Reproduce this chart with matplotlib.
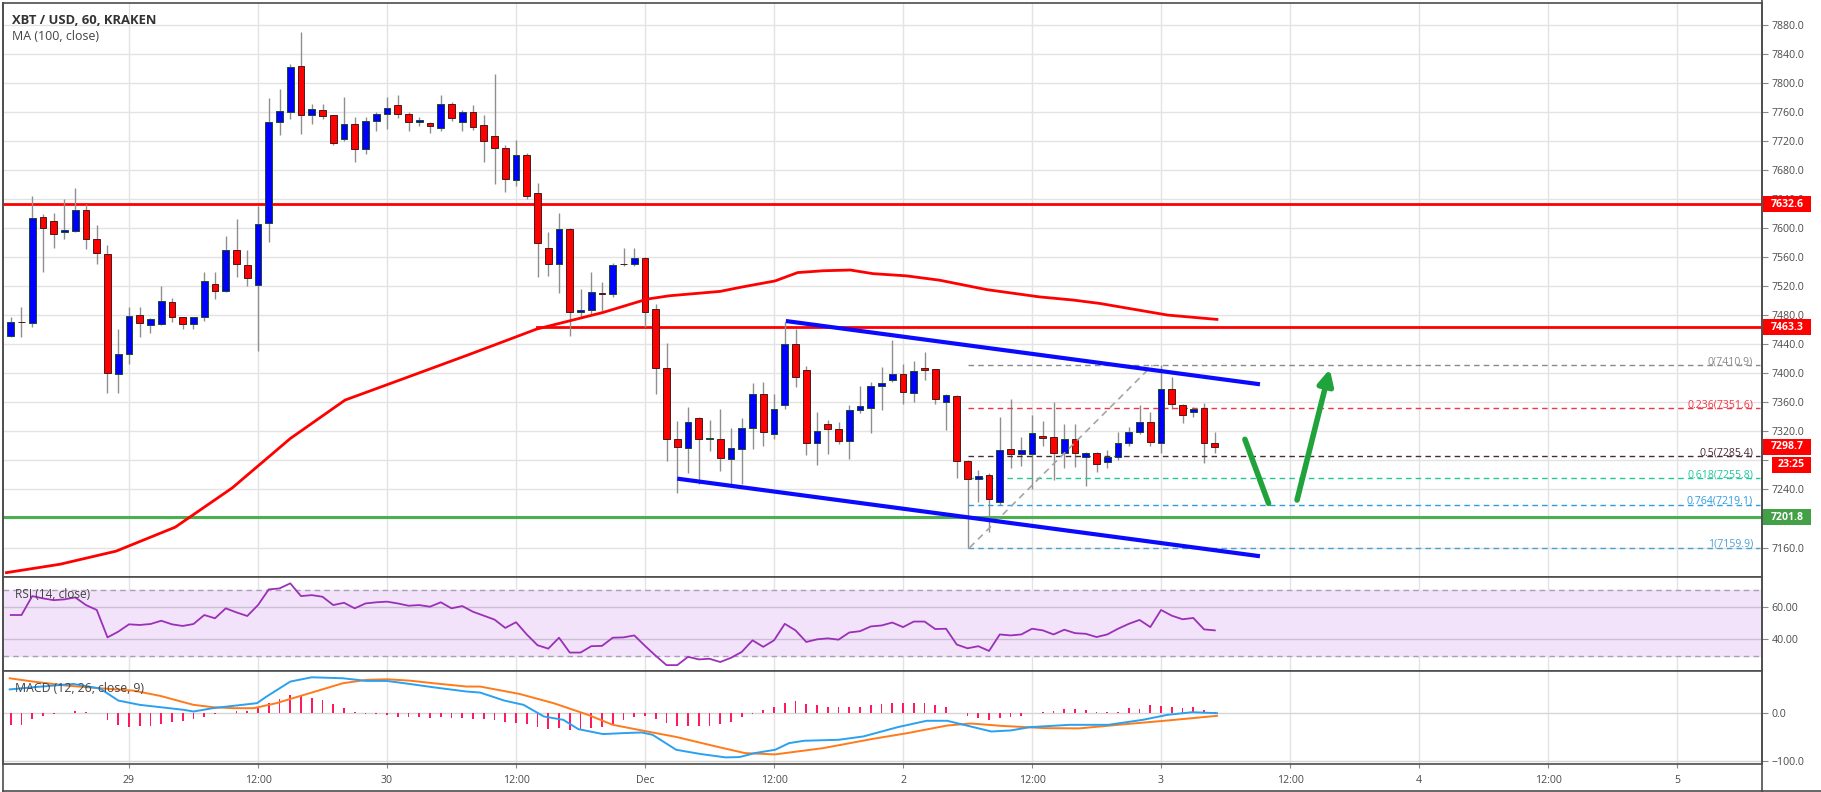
import numpy as np
import matplotlib.pyplot as plt
from matplotlib.patches import Rectangle, FancyArrowPatch

plt.rcParams['font.family'] = ['Open Sans', 'DejaVu Sans']

W, H = 1821, 792

# hourly candles, x = hours from 29 Nov 00:00, first candle at -11
first_hour = -11
opens = [7450.5, 7470.5, 7468.4, 7615.6, 7609.6, 7594.4, 7595.4, 7625.3, 7584.8, 7564,
         7398.5, 7426, 7480, 7466.6, 7467.5, 7498, 7477.6, 7467.5, 7476.7, 7522.7,
         7512.6, 7570, 7549.4, 7521, 7606.3, 7745.7, 7759.5, 7823.4, 7754.9, 7761.8,
         7755, 7722.7, 7743.4, 7709, 7746.6, 7757, 7769.6, 7757, 7745.7, 7744.8,
         7737.4, 7771, 7745.7, 7760, 7742, 7726, 7710.3, 7665.6, 7701, 7648,
         7572.4, 7550.3, 7598.6, 7484.5, 7486.8, 7510, 7509, 7550.3, 7550.3, 7558.6,
         7488, 7406.8, 7308.8, 7297, 7337.8, 7310, 7310, 7282, 7295, 7324.9,
         7370.9, 7316, 7355.7, 7440, 7405, 7304.5, 7330.6, 7323.7, 7306.8, 7349.8,
         7352.5, 7382.2, 7390, 7398.2, 7373, 7407.4, 7405.2, 7360.7, 7369, 7279.5,
         7254.3, 7259.8, 7223, 7295, 7288.7, 7288.7, 7313.5, 7311.6, 7290.5, 7308.9,
         7284.1, 7289.6, 7278, 7284.1, 7303.4, 7319.4, 7332.3, 7303.4, 7377.7, 7355.7,
         7346, 7351.6, 7304.3]
highs = [7478, 7491, 7643.7, 7619, 7620.6, 7640, 7655, 7633, 7604.6, 7577,
         7460.6, 7490.5, 7491.5, 7476, 7520, 7504, 7478, 7478, 7538.8, 7538.8,
         7589.4, 7612.4, 7570, 7630.8, 7779.2, 7791.7, 7826, 7869, 7770, 7770,
         7756, 7780, 7752.6, 7752.6, 7759.5, 7780, 7783.4, 7759, 7752, 7746,
         7782.5, 7773, 7762, 7769.6, 7755, 7812.4, 7713.5, 7720.4, 7703, 7662,
         7594, 7620, 7600, 7515.8, 7539.7, 7525, 7552, 7573, 7572, 7560,
         7495, 7442, 7334, 7353.4, 7340, 7335, 7350, 7325, 7338.7, 7387,
         7387.7, 7371.7, 7471, 7461, 7410, 7346.6, 7336, 7333, 7355.7, 7383,
         7387.7, 7408, 7445.7, 7413, 7417.4, 7429, 7406, 7371, 7370, 7281,
         7266.7, 7262, 7339.2, 7364, 7312.6, 7342.4, 7334.6, 7360.7, 7330, 7330,
         7292, 7291, 7294.2, 7319.4, 7325.4, 7356.2, 7347, 7410.9, 7395, 7358,
         7353, 7358.4, 7318.5]
lows = [7450, 7450, 7463, 7539, 7572, 7584.8, 7595, 7571, 7550, 7373,
        7373, 7412, 7450, 7455, 7467, 7469.8, 7460.6, 7460.6, 7472, 7502,
        7512, 7532, 7520, 7430.7, 7581, 7728, 7750.3, 7729.6, 7742.5, 7750,
        7713.5, 7720, 7690.5, 7702, 7734, 7736, 7751.7, 7734, 7740, 7731,
        7732.8, 7747, 7734, 7735, 7690.5, 7660.6, 7649, 7658, 7640, 7532,
        7534, 7510.3, 7451.4, 7478, 7482, 7486, 7505, 7548, 7548, 7463,
        7371, 7279, 7235, 7262, 7248, 7292.7, 7265, 7245, 7248, 7295,
        7300, 7310, 7350, 7381, 7287, 7273.5, 7289, 7303, 7281.2, 7345,
        7317, 7349, 7388, 7358, 7360, 7391, 7357, 7321.7, 7256, 7159.9,
        7223, 7181.7, 7219, 7270, 7272, 7240, 7300, 7253, 7270, 7271.3,
        7245, 7264.3, 7269, 7280, 7300, 7316, 7300, 7290, 7350, 7331,
        7340, 7275.8, 7289.6]
closes = [7469.8, 7469.8, 7613.8, 7599.5, 7591, 7597.7, 7625.3, 7584.3, 7565, 7400.8,
          7426, 7479, 7468.4, 7474.4, 7499, 7477.6, 7467.5, 7476.7, 7527.3, 7512.6,
          7570, 7549.8, 7530.5, 7605.5, 7745.7, 7760.4, 7821.6, 7755.8, 7764, 7754,
          7716.7, 7743.4, 7709, 7746.6, 7757, 7765.5, 7757, 7745.7, 7749, 7740,
          7771, 7751, 7760, 7738.8, 7719.5, 7709.8, 7667, 7700.6, 7643.6, 7579,
          7550.3, 7598.6, 7483.6, 7486.8, 7511.2, 7509, 7549, 7549.8, 7558.6, 7483.6,
          7406.8, 7308.8, 7298.7, 7332.7, 7308.8, 7310.5, 7283.5, 7297.3, 7324.9, 7370.9,
          7319.4, 7351, 7440, 7394.6, 7304, 7320.5, 7323.7, 7306.8, 7349.8, 7354.4,
          7383, 7386.8, 7398.2, 7374.5, 7402.8, 7404.6, 7364.9, 7369.9, 7279.5, 7253.8,
          7258.8, 7226.3, 7294.2, 7288.7, 7294.2, 7317.1, 7310.3, 7289.6, 7308.9, 7289.6,
          7289.6, 7275, 7285, 7303.4, 7319.4, 7332.3, 7305.7, 7377.7, 7357.1, 7341.9,
          7350, 7304.3, 7298.7]

# MA(100) as traced
ma_hours = [-11.4, -6.4, -1.2, 4.3, 9.6, 15.0, 20.1, 25.2, 31.7, 37.9, 44.1, 48.2, 50.3,
            55.0, 56.8, 60.1, 62.2, 64.6, 67.1, 69.2, 72.3, 75.4, 79.8, 84.7, 87.8, 90.3,
            96.6, 101.2]
ma_values = [7125.4, 7137, 7155, 7188, 7242, 7310, 7363, 7390.6, 7426, 7460.6, 7483.6,
             7502, 7506.6, 7512.6, 7518, 7527, 7538.5, 7541, 7542, 7537, 7534, 7528,
             7515, 7505, 7500.7, 7496, 7480, 7474]

rsi = [54.9, 54.9, 66.5, 65.1, 64, 64.5, 65.7, 61, 58, 41.2,
       44.7, 49.2, 48.8, 49.4, 51.4, 49.2, 48.2, 49.4, 54.9, 52.9,
       59, 56.5, 54.3, 61, 70.6, 71.2, 74.3, 66.5, 67.1, 66.1,
       61, 62.4, 59, 62, 62.7, 63.1, 62, 60.6, 61, 60,
       62.7, 59, 60.4, 56.9, 54.5, 52.1, 47, 50.5, 43, 36.4,
       34.3, 41, 31.9, 31.9, 35.8, 36, 41, 41.2, 42.4, 36,
       29.9, 24.2, 24.2, 29.3, 27.7, 28.1, 26.1, 28.7, 32.3, 39.4,
       35.4, 39.4, 49.5, 45.5, 38.4, 40, 40.6, 39.8, 44.2, 45,
       47.9, 48.5, 50.3, 47.5, 50.9, 50.9, 46.3, 46.5, 36.8, 34.5,
       35.8, 32.9, 43, 42.4, 43, 46.5, 45.5, 43, 45.9, 43.8,
       43.4, 41.4, 43, 46.5, 49.5, 51.9, 47.5, 58, 54.5, 52.3,
       53.1, 46.1, 45.5]

macd_hours = [-11.1, -8.9, -5.2, -2.7, -1.0, 1.0, 5.1, 6.0, 7.8, 9.7, 11.9, 12.8, 15.0,
              17.0, 19.9, 22.1, 24.0, 26.1, 28.3, 31.4, 32.65, 34.9, 36.7, 38.6, 40.4,
              41.8, 44.1, 45.9, 47.7, 48.7, 50.9, 53.2, 55.5, 56.8, 58.2, 60.1, 61.4,
              62.8, 66.0, 68.3, 71.5, 74.2, 76.1, 78.3, 80.2, 82.0, 83.8, 87.5, 91.1,
              94.3, 96.6, 98.9, 101.2]
macd_line = [50, 54.5, 61.5, 52, 26.6, 17.5, 7, 3.5, 10.5, 15.4, 21, 35, 66.4,
             75.5, 73.4, 67.8, 67.8, 61.5, 54.5, 45.5, 43.4, 26.6, 17.5, -7, -14,
             -33.6, -44, -42, -40.6, -45.5, -77, -86, -93, -92.3, -84, -77, -63,
             -58, -56, -49, -29.4, -16, -16, -28, -38.5, -36.4, -29.4, -24.5, -24.5,
             -14, -3.5, 2, 0]
signal_hours = [-11.1, -8.9, -5.8, -2.7, 0.4, 2.9, 6.0, 7.8, 9.7, 11.6, 13.7, 16.8, 19.9,
                22.1, 24.0, 26.1, 28.3, 31.4, 32.65, 36.3, 39.5, 42.7, 45.0, 48.2, 50.9,
                54.6, 57.3, 60.1, 64.6, 69.2, 72.4, 76.1, 78.3, 81.1, 85.2, 88.4, 92.0,
                96.6, 101.2]
signal_line = [73.4, 66.4, 58, 52.4, 47.5, 36.4, 17.5, 12.6, 10.5, 10.5, 21, 42, 63,
               70, 71.3, 68.5, 63, 56, 56, 40.6, 21, -3.5, -24.5, -38.5, -50,
               -70, -84, -86.7, -73.4, -54, -42, -26, -21.7, -26.6, -31.5, -32, -24.5,
               -15.4, -5.6]
macd_hist = [-24.5, -24.5, -12.6, -5.6, -1, 1.4, 5.6, 2.8, 0, -15.4,
             -24.5, -29.4, -28, -26.6, -22.4, -19.6, -17.5, -12.6, -7, -2,
             1.4, 5.6, 4.9, 10.5, 22.4, 30.8, 38.5, 36.4, 32.9, 28,
             18.9, 11.9, 2.8, -2, -2, -3.5, -7, -7, -8.4, -10.5,
             -9, -10.5, -11.2, -11.9,
             -12.6, -15.4, -18.9, -21, -23, -29.4, -33.6, -31.5, -35, -33.6,
             -31.5, -29.4, -23, -15.4, -8.4, -5.6, -12.6, -21, -28, -28,
             -26.6, -26.6, -23, -18.9, -8.4, -1.4, 7, 12, 21, 26,
             19, 17.5, 12.6, 12, 12.6, 14, 17.5, 19.6, 21, 21,
             21, 21, 17.5, 14, 0, -5.6, -10.5, -15.4, -10.5, -9,
             -5.6, 0, 3.5, 4.2, 9, 8, 7, 3.5, 3.5, 3.5,
             10.5, 9, 17.5, 15, 14, 10.5, 12.6, 7, 3.5]

resistance_1 = 7632.6
resistance_2 = 7463.3
support_1 = 7201.8
last_price = 7298.7
countdown = "23:25"
fib_ratios = ["0", "0.236", "0.5", "0.618", "0.764", "1"]
fib_prices = [7410.9, 7351.6, 7285.4, 7255.8, 7219.1, 7159.9]
fib_colors = ["#8a8a8a", "#f23645", "#4b2a33", "#22c79a", "#2f9be0", "#4f9fd0"]
tick_hours = [0, 12, 24, 36, 48, 60, 72, 84, 96, 108, 120, 132, 144]
tick_names = ["29", "12:00", "30", "12:00", "Dec", "12:00", "2", "12:00", "3",
              "12:00", "4", "12:00", "5"]

# ---------------------------------------------------------------
X_LEFT, X_RIGHT = -11.72, 151.9
P_TOP, P_BOT = 7909.6, 7119.4
AX_L, AX_R = 3, 1762
TXT = "#4a4a4a"
GRID = "#e3e3e3"
BORDER = "#4d4d4d"
FS = 7.6


def box(x0, y0, x1, y1):
    return [x0 / W, 1 - y1 / H, (x1 - x0) / W, (y1 - y0) / H]


def price_y(p):
    return 3 + (P_TOP - p) / (P_TOP - P_BOT) * 574


fig = plt.figure(figsize=(W / 100, H / 100), dpi=100)
fig.patch.set_facecolor("white")

ax = fig.add_axes(box(AX_L, 3, AX_R, 577))
ax_rsi = fig.add_axes(box(AX_L, 577, AX_R, 671), sharex=ax)
ax_macd = fig.add_axes(box(AX_L, 671, AX_R, 764), sharex=ax)

for a in (ax, ax_rsi, ax_macd):
    a.set_xlim(X_LEFT, X_RIGHT)
    for s in a.spines.values():
        s.set_color(BORDER)
        s.set_linewidth(1.2)
    a.set_xticks(tick_hours)
    for th in tick_hours:
        a.axvline(th, color=GRID, lw=1, zorder=0)
    a.yaxis.tick_right()
    a.tick_params(axis="y", which="both", length=4, width=0.8, color="#888888",
                  labelsize=FS, labelcolor=TXT, pad=3)
    a.tick_params(axis="x", length=0, labelbottom=False)

# ---- price pane ----
ax.set_ylim(P_BOT, P_TOP)
price_ticks = np.arange(7160, 7881, 40)
ax.set_yticks(price_ticks)
# labels that sit fully under the price tags are left out
ax.set_yticklabels(["" if v in (7200, 7280) else f"{v:.1f}" for v in price_ticks])
for v in price_ticks:
    ax.axhline(v, color=GRID, lw=1, zorder=0)

hours = np.arange(len(opens)) + first_hour
o = np.array(opens)
c = np.array(closes)
up = c >= o
body_lo = np.minimum(o, c)
body_h = np.maximum(np.abs(c - o), 1.0)
ax.vlines(hours, lows, highs, color="#8f8f8f", lw=1, zorder=3)
ax.bar(hours[up], body_h[up], bottom=body_lo[up], width=0.62, color="#0000ff",
       edgecolor="#1d4a2a", linewidth=0.7, zorder=4)
ax.bar(hours[~up], body_h[~up], bottom=body_lo[~up], width=0.62, color="#ff0000",
       edgecolor="#4a1a1a", linewidth=0.7, zorder=4)

ax.plot(ma_hours, ma_values, color="#ff0000", lw=2, zorder=5)

ax.axhline(resistance_1, color="#ff0000", lw=2, zorder=2)
ax.plot([37.95, X_RIGHT], [resistance_2, resistance_2], color="#ff0000", lw=2, zorder=2)
ax.axhline(support_1, color="#4caf50", lw=2.2, zorder=2)

# falling channel
ax.plot([61.1, 105.2], [7471.8, 7384.7], color="#0a0aff", lw=3, zorder=6,
        solid_capstyle="butt")
ax.plot([51.0, 105.2], [7254.8, 7148.0], color="#0a0aff", lw=3, zorder=6,
        solid_capstyle="butt")

# fib retracement
ax.plot([78.2, 95.2], [fib_prices[-1], fib_prices[0]], color="#a5a5a5", lw=1.2,
        ls=(0, (4, 3)), zorder=5)
for r, p, col in zip(fib_ratios, fib_prices, fib_colors):
    ax.plot([78.05, 151.7], [p, p], color=col, lw=1, ls=(0, (4, 3)), zorder=3)
    ax.text(151.07, p + 1.0, f"{r}({p:.1f})", color=col, fontsize=FS,
            ha="right", va="baseline", zorder=7)

# green arrows
ax.plot([103.8, 106.0], [7308.9, 7220.8], color="#1fa33a", lw=4, zorder=7,
        solid_capstyle="round")
ax.add_patch(FancyArrowPatch((108.65, 7225.4), (111.7, 7405.7),
                             arrowstyle="-|>,head_length=6,head_width=3",
                             color="#1fa33a", lw=4, zorder=7, mutation_scale=1.5,
                             shrinkA=0, shrinkB=0))

fig.text(12 / W, 1 - 20.5 / H, "XBT / USD, 60, KRAKEN", fontsize=9.4,
         fontweight="bold", color="#333333", va="center", ha="left")
fig.text(12 / W, 1 - 36.5 / H, "MA (100, close)", fontsize=8.9, color="#444444",
         va="center", ha="left")

# ---- RSI pane ----
ax_rsi.set_ylim(20.6, 78.2)
ax_rsi.axhspan(30, 70, color="#f2e3fa", zorder=0)
ax_rsi.axhline(70, color="#a9a1b3", lw=1, ls=(0, (4, 3)), zorder=1)
ax_rsi.axhline(30, color="#a9a1b3", lw=1, ls=(0, (4, 3)), zorder=1)
ax_rsi.axhline(60, color="#cbbfd6", lw=1, zorder=1)
ax_rsi.axhline(40, color="#cbbfd6", lw=1, zorder=1)
ax_rsi.plot(hours, rsi, color="#9b30b8", lw=1.3, zorder=3)
ax_rsi.set_yticks([40, 60])
ax_rsi.set_yticklabels(["40.00", "60.00"])
ax_rsi.text(12 / 1759, 0.81, "RSI (14, close)", transform=ax_rsi.transAxes,
            fontsize=8.6, color="#444444", va="center", ha="left", zorder=5)

# ---- MACD pane ----
ax_macd.set_ylim(-106.9, 88.7)
ax_macd.axhline(0, color="#d6d6d6", lw=1, zorder=0)
ax_macd.axhline(-100, color="#d6d6d6", lw=1, zorder=0)
ax_macd.bar(hours, macd_hist, width=0.16, color="#ff1a5e", zorder=2)
ax_macd.plot(signal_hours, signal_line, color="#ff7a1a", lw=1.4, zorder=3)
ax_macd.plot(macd_hours, macd_line, color="#2aa1f0", lw=1.4, zorder=4)
ax_macd.set_yticks([-100, 0])
ax_macd.set_yticklabels(["\u2212100.0", "0.0"])
ax_macd.text(12 / 1759, 0.81, "MACD (12, 26, close, 9)", transform=ax_macd.transAxes,
             fontsize=8.8, color="#444444", va="center", ha="left", zorder=5)

ax_macd.tick_params(axis="x", length=3, color="#888888", labelbottom=True,
                    labelsize=FS, labelcolor=TXT, pad=5)
ax_macd.set_xticklabels(tick_names)

# right axis line and outer border
fig.add_artist(plt.Line2D([AX_R / W, AX_R / W], [0, 1], color=BORDER, lw=1.2))
fig.add_artist(plt.Line2D([AX_L / W, AX_L / W], [0, 1 - 3 / H], color=BORDER, lw=1.2))
fig.add_artist(plt.Line2D([AX_L / W, 1], [1 - 790.5 / H, 1 - 790.5 / H], color=BORDER,
                          lw=1.2))


def tag(yc, text, color, x0=1763, x1=1811, h=16):
    fig.add_artist(Rectangle((x0 / W, 1 - (yc + h / 2) / H), (x1 - x0) / W, h / H,
                             transform=fig.transFigure, facecolor=color,
                             edgecolor="none", zorder=10))
    fig.text((x0 + x1) / 2 / W, 1 - yc / H, text, color="white", fontsize=FS,
             fontweight="bold", ha="center", va="center", zorder=11)


tag(price_y(resistance_1), f"{resistance_1:.1f}", "#ff0000")
tag(price_y(resistance_2), f"{resistance_2:.1f}", "#ff0000")
tag(price_y(last_price), f"{last_price:.1f}", "#ff0000")
tag(price_y(last_price) + 18, countdown, "#ff0000", x0=1772)
tag(price_y(support_1), f"{support_1:.1f}", "#43a047")

fig.savefig("out.png", dpi=100, facecolor="white")
